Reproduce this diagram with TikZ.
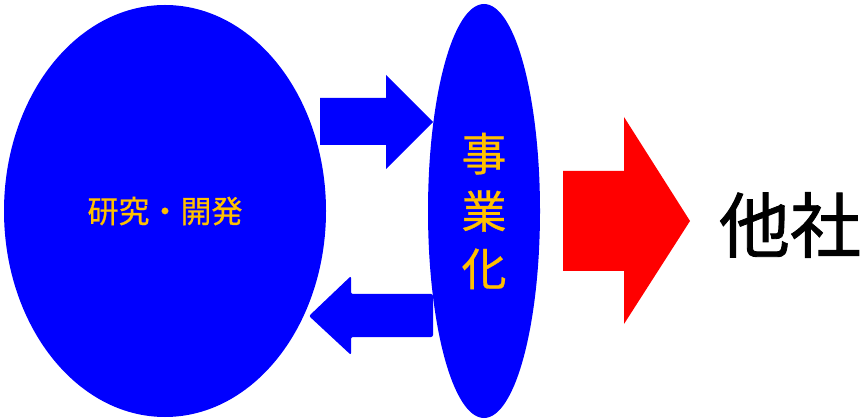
\documentclass[tikz,border=0pt]{standalone}
\usepackage{fontspec}
\setmainfont{Noto Sans CJK JP}
\newfontfamily\heavyfont[FakeBold=1.2]{Noto Sans CJK JP}
\newfontfamily\semifont[FakeBold=0.6]{Noto Sans CJK JP}
\definecolor{myblue}{RGB}{0,0,255}
\definecolor{myred}{RGB}{255,0,0}
\definecolor{myorange}{RGB}{255,192,0}
\begin{document}
\begin{tikzpicture}[x=1pt,y=-1pt,
  lbl/.style={text=myorange, inner sep=0pt, align=center}]
\useasboundingbox (0,0) rectangle (861,419);
% ellipses
\fill[myblue] (165,211) ellipse [x radius=161, y radius=206];
\node[inner sep=0pt, minimum size=0pt] (rd) at (165,211) {};
\fill[myblue] (484,211) ellipse [x radius=56, y radius=207];
\node[inner sep=0pt, minimum size=0pt] (jg) at (484,211) {};
% upper arrow (right)
\fill[myblue] (320,98) -- (386,98) -- (386,75) -- (433,122) -- (386,169) -- (386,145) -- (320,145) -- cycle;
% lower arrow (left)
\fill[myblue, rounded corners=2pt] (433,294) -- (351,294) -- (351,276) -- (309,316) -- (351,355) -- (351,337) -- (433,337) -- cycle;
% red arrow
\fill[myred] (563,171) -- (624,171) -- (624,117) -- (690,221) -- (624,324) -- (624,271) -- (563,271) -- cycle;
% labels
\node[lbl, font=\semifont\fontsize{31}{31}\selectfont] (t1) at (rd) {研究・開発};
\node[lbl, font=\semifont\fontsize{45}{57.5}\selectfont] (t2) at (jg) {事\\業\\化};
\node[inner sep=0pt, font=\heavyfont\fontsize{71}{71}\selectfont] (t3) at (790,225) {他社};
\end{tikzpicture}
\end{document}
